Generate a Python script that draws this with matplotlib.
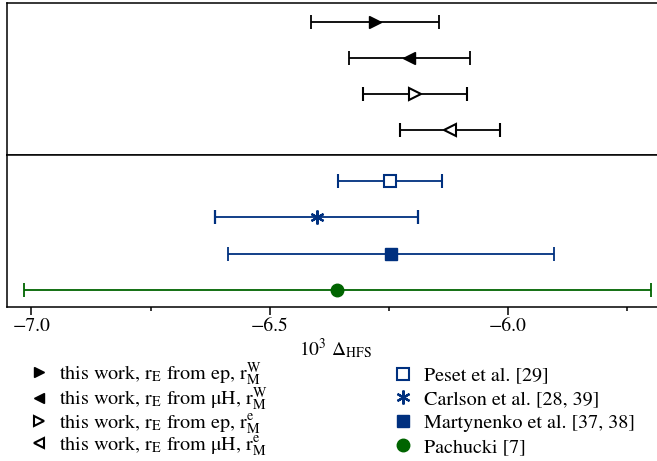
import matplotlib
matplotlib.use('Agg')
import matplotlib.pyplot as plt
from matplotlib.lines import Line2D
from matplotlib.ticker import MultipleLocator

plt.rcParams['font.family'] = ['STIXGeneral', 'DejaVu Serif']
plt.rcParams['mathtext.fontset'] = 'stix'
plt.rcParams['font.size'] = 14

# this work (top panel)
work_labels = [r'this work, r$_{\mathrm{E}}$ from ep, r$_{\mathrm{M}}^{\mathrm{W}}$',
               r'this work, r$_{\mathrm{E}}$ from $\mathrm{\mu}$H, r$_{\mathrm{M}}^{\mathrm{W}}$',
               r'this work, r$_{\mathrm{E}}$ from ep, r$_{\mathrm{M}}^{\mathrm{e}}$',
               r'this work, r$_{\mathrm{E}}$ from $\mathrm{\mu}$H, r$_{\mathrm{M}}^{\mathrm{e}}$']
work_vals = [-6.279, -6.207, -6.196, -6.122]
work_errs = [0.135, 0.127, 0.109, 0.105]

# literature (bottom panel)
lit_labels = ['Peset et al. [29]', 'Carlson et al. [28, 39]',
              'Martynenko et al. [37, 38]', 'Pachucki [7]']
lit_vals = [-6.247, -6.401, -6.246, -6.358]
lit_errs = [0.109, 0.213, 0.342, 0.658]

black = 'black'
navy = '#00307f'
green = '#006400'

work_styles = [dict(marker='>', mfc=black, mec=black, ms=9),
               dict(marker='<', mfc=black, mec=black, ms=9),
               dict(marker='>', mfc='white', mec=black, ms=9, mew=1.5),
               dict(marker='<', mfc='white', mec=black, ms=9, mew=1.5)]
lit_styles = [dict(marker='s', mfc='white', mec=navy, ms=8.5, mew=1.5, color=navy),
              dict(marker=(6, 2, 0), mfc=navy, mec=navy, ms=10, mew=1.6, color=navy),
              dict(marker='s', mfc=navy, mec=navy, ms=8.5, color=navy),
              dict(marker='o', mfc=green, mec=green, ms=9, color=green)]

fig = plt.figure(figsize=(6.57, 4.61), dpi=100)
ax1 = fig.add_axes([0.0111, 0.6627, 1.0, 0.3301])
ax2 = fig.add_axes([0.0111, 0.334, 1.0, 0.3287], sharex=ax1)

for i, (v, e, st) in enumerate(zip(work_vals, work_errs, work_styles)):
    ax1.errorbar(v, i, xerr=e, color=black, capsize=5, elinewidth=1.3, capthick=1.3,
                 linestyle='none', **st)
for i, (v, e, st) in enumerate(zip(lit_vals, lit_errs, lit_styles)):
    ax2.errorbar(v, i, xerr=e, capsize=5, elinewidth=1.3, capthick=1.3,
                 linestyle='none', ecolor=st['color'],
                 **{k: val for k, val in st.items() if k != 'color'})

ax1.set_ylim(3.70, -0.53)
ax2.set_ylim(3.47, -0.70)
ax1.set_xlim(-7.0506, -5.672)

for ax in (ax1, ax2):
    ax.set_yticks([])
    for s in ax.spines.values():
        s.set_linewidth(1.1)
ax1.tick_params(axis='x', bottom=False, labelbottom=False)
ax2.xaxis.set_major_locator(MultipleLocator(0.5))
ax2.xaxis.set_minor_locator(MultipleLocator(0.25))
ax2.tick_params(axis='x', which='major', direction='out', length=5.5, width=1.1, pad=2)
ax2.tick_params(axis='x', which='minor', direction='out', length=3, width=1.1)
ax2.xaxis.set_major_formatter(plt.FuncFormatter(lambda x, p: f'{x:.1f}'.replace('-', '\u2212')))
ax2.set_xlabel(r'$10^3\ \Delta_{\mathrm{HFS}}$', labelpad=1)

# legend handles show only the markers
h1 = [Line2D([], [], linestyle='none', color=black, **dict(st, ms=7)) for st in work_styles]
h2 = [Line2D([], [], linestyle='none', **st) for st in lit_styles]
fig.legend(h1, work_labels, loc='upper left', bbox_to_anchor=(0.0446, 0.219),
           frameon=False, handlelength=1.0, handletextpad=0.45, labelspacing=-0.08,
           borderaxespad=0, borderpad=0, fontsize=14.5)
fig.legend(h2, lit_labels, loc='upper left', bbox_to_anchor=(0.5976, 0.205),
           frameon=False, handlelength=1.0, handletextpad=0.55, labelspacing=0.28,
           borderaxespad=0, borderpad=0, fontsize=14.5)

fig.savefig('out.png', dpi=100)
